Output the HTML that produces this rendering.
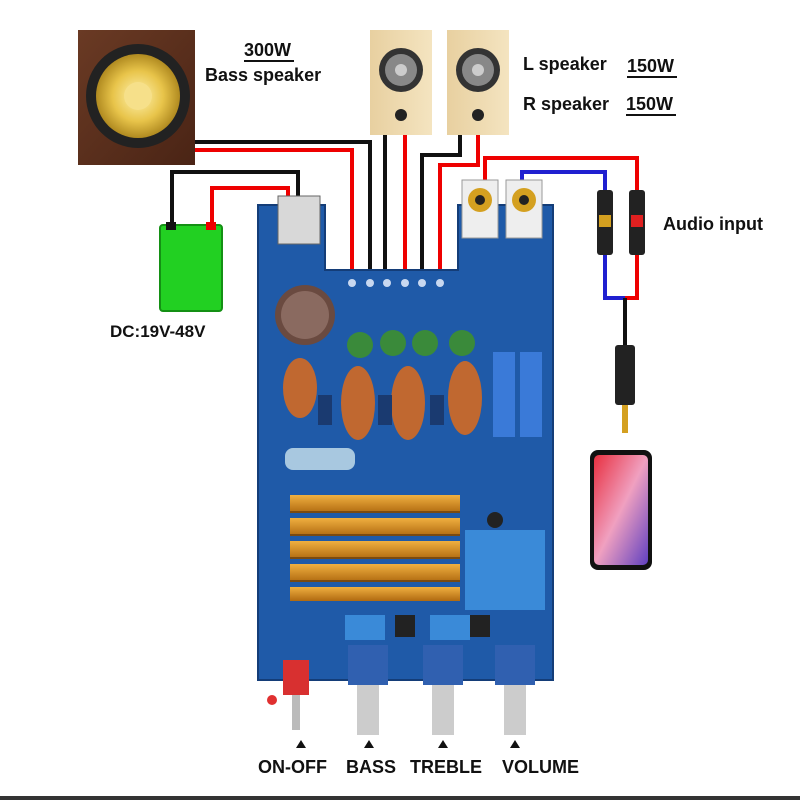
<!DOCTYPE html>
<html><head><meta charset="utf-8"><style>
html,body{margin:0;padding:0;background:#fff;width:800px;height:800px;overflow:hidden}
svg{display:block}
text{font-family:"Liberation Sans",sans-serif}
</style></head><body>
<svg width="800" height="800" viewBox="0 0 800 800" xmlns="http://www.w3.org/2000/svg">
<defs>
<linearGradient id="wood" x1="0" y1="0" x2="1" y2="1"><stop offset="0" stop-color="#6a3a24"/><stop offset="1" stop-color="#4a2415"/></linearGradient>
<radialGradient id="cone"><stop offset="0" stop-color="#fff3b0"/><stop offset="0.6" stop-color="#e8c44a"/><stop offset="1" stop-color="#b08a20"/></radialGradient>
<linearGradient id="gold" x1="0" y1="0" x2="0" y2="1"><stop offset="0" stop-color="#f0b040"/><stop offset="1" stop-color="#b06a10"/></linearGradient>
<linearGradient id="phone" x1="0" y1="0" x2="1" y2="1"><stop offset="0" stop-color="#e83040"/><stop offset="0.5" stop-color="#f0a0c0"/><stop offset="1" stop-color="#6040c0"/></linearGradient>
<linearGradient id="lw" x1="0" y1="0" x2="1" y2="0"><stop offset="0" stop-color="#e8d0a0"/><stop offset="1" stop-color="#f4e4c0"/></linearGradient>
</defs>
<rect width="800" height="800" fill="#fff"/>
<g fill="none" stroke-width="4">
<path d="M195 142 H370 V270" stroke="#111"/>
<path d="M195 150 H352 V270" stroke="#e00"/>
<path d="M385 135 V270" stroke="#111"/>
<path d="M405 135 V270" stroke="#e00"/>
<path d="M460 135 V155 H422 V270" stroke="#111"/>
<path d="M478 135 V165 H440 V270" stroke="#e00"/>
<path d="M172 225 V172 H298 V200" stroke="#111"/>
<path d="M212 225 V188 H288 V200" stroke="#e00"/>
<path d="M485 180 V158 H637 V190" stroke="#e00"/>
<path d="M522 180 V172 H605 V190" stroke="#2020d0"/>
<path d="M605 255 V298 H625" stroke="#2020d0"/>
<path d="M637 255 V298 H625" stroke="#e00"/>
<path d="M625 298 V345" stroke="#111"/>
</g>
<rect x="78" y="30" width="117" height="135" fill="url(#wood)"/>
<circle cx="138" cy="96" r="52" fill="#222"/>
<circle cx="138" cy="96" r="42" fill="url(#cone)"/>
<circle cx="138" cy="96" r="14" fill="#f6e08a"/>
<text x="244" y="56" font-size="18" font-weight="bold" fill="#111">300W</text>
<rect x="244" y="60" width="50" height="2" fill="#111"/>
<text x="205" y="81" font-size="18" font-weight="bold" fill="#111">Bass speaker</text>
<g>
<rect x="370" y="30" width="62" height="105" fill="url(#lw)"/>
<circle cx="401" cy="70" r="22" fill="#333"/><circle cx="401" cy="70" r="16" fill="#888"/><circle cx="401" cy="70" r="6" fill="#ccc"/>
<circle cx="401" cy="115" r="6" fill="#222"/>
<rect x="447" y="30" width="62" height="105" fill="url(#lw)"/>
<circle cx="478" cy="70" r="22" fill="#333"/><circle cx="478" cy="70" r="16" fill="#888"/><circle cx="478" cy="70" r="6" fill="#ccc"/>
<circle cx="478" cy="115" r="6" fill="#222"/>
</g>
<text x="523" y="70" font-size="18" font-weight="bold" fill="#111">L speaker</text>
<text x="627" y="72" font-size="18" font-weight="bold" fill="#111">150W</text>
<rect x="627" y="76" width="50" height="2" fill="#111"/>
<text x="523" y="110" font-size="18" font-weight="bold" fill="#111">R speaker</text>
<text x="626" y="110" font-size="18" font-weight="bold" fill="#111">150W</text>
<rect x="626" y="114" width="50" height="2" fill="#111"/>
<rect x="160" y="225" width="62" height="86" rx="3" fill="#22d022" stroke="#149014" stroke-width="2"/>
<rect x="166" y="222" width="10" height="8" fill="#111"/><rect x="206" y="222" width="10" height="8" fill="#e00"/>
<text x="110" y="337" font-size="17" font-weight="bold" fill="#111">DC:19V-48V</text>
<path d="M258 205 H325 V270 H458 V205 H553 V680 H258 Z" fill="#1f5aa8" stroke="#143d78" stroke-width="2"/>
<g fill="#c8d8f0"><circle cx="352" cy="283" r="4"/><circle cx="370" cy="283" r="4"/><circle cx="387" cy="283" r="4"/><circle cx="405" cy="283" r="4"/><circle cx="422" cy="283" r="4"/><circle cx="440" cy="283" r="4"/></g>
<rect x="278" y="196" width="42" height="48" fill="#d8d8d8" stroke="#666"/>
<rect x="462" y="180" width="36" height="58" fill="#eee" stroke="#999"/><circle cx="480" cy="200" r="12" fill="#d4a020"/><circle cx="480" cy="200" r="5" fill="#222"/>
<rect x="506" y="180" width="36" height="58" fill="#eee" stroke="#999"/><circle cx="524" cy="200" r="12" fill="#d4a020"/><circle cx="524" cy="200" r="5" fill="#222"/>
<circle cx="305" cy="315" r="30" fill="#6a4a40"/><circle cx="305" cy="315" r="24" fill="#8a6a60"/>
<g fill="#3a8a3a"><circle cx="360" cy="345" r="13"/><circle cx="393" cy="343" r="13"/><circle cx="425" cy="343" r="13"/><circle cx="462" cy="343" r="13"/></g>
<g fill="#c06830"><ellipse cx="300" cy="388" rx="17" ry="30"/><ellipse cx="358" cy="403" rx="17" ry="37"/><ellipse cx="408" cy="403" rx="17" ry="37"/><ellipse cx="465" cy="398" rx="17" ry="37"/></g>
<g fill="#1a3a70"><rect x="318" y="395" width="14" height="30"/><rect x="378" y="395" width="14" height="30"/><rect x="430" y="395" width="14" height="30"/></g>
<rect x="493" y="352" width="22" height="85" fill="#3a7ad8"/><rect x="520" y="352" width="22" height="85" fill="#3a7ad8"/>
<rect x="285" y="448" width="70" height="22" rx="8" fill="#a8c8e0"/>
<g fill="url(#gold)">
<rect x="290" y="495" width="170" height="18"/><rect x="290" y="518" width="170" height="18"/><rect x="290" y="541" width="170" height="18"/><rect x="290" y="564" width="170" height="18"/><rect x="290" y="587" width="170" height="14"/>
</g>
<g fill="#7a4a10"><rect x="290" y="511" width="170" height="2"/><rect x="290" y="534" width="170" height="2"/><rect x="290" y="557" width="170" height="2"/><rect x="290" y="580" width="170" height="2"/></g>
<g fill="#3a8ad8"><rect x="465" y="530" width="80" height="80"/><rect x="345" y="615" width="40" height="25"/><rect x="430" y="615" width="40" height="25"/></g>
<g fill="#222"><rect x="395" y="615" width="20" height="22"/><rect x="470" y="615" width="20" height="22"/><circle cx="495" cy="520" r="8"/></g>
<rect x="283" y="660" width="26" height="35" fill="#d83030"/><rect x="292" y="695" width="8" height="35" fill="#bbb"/>
<circle cx="272" cy="700" r="5" fill="#e03030"/>
<g>
<rect x="348" y="645" width="40" height="40" fill="#3060b0"/><rect x="357" y="685" width="22" height="50" fill="#ccc"/>
<rect x="423" y="645" width="40" height="40" fill="#3060b0"/><rect x="432" y="685" width="22" height="50" fill="#ccc"/>
<rect x="495" y="645" width="40" height="40" fill="#3060b0"/><rect x="504" y="685" width="22" height="50" fill="#ccc"/>
</g>
<g fill="#111"><path d="M296 748 l5 -8 l5 8z"/><path d="M364 748 l5 -8 l5 8z"/><path d="M438 748 l5 -8 l5 8z"/><path d="M510 748 l5 -8 l5 8z"/></g>
<g font-size="18" font-weight="bold" fill="#111">
<text x="258" y="773">ON-OFF</text><text x="346" y="773">BASS</text><text x="410" y="773">TREBLE</text><text x="502" y="773">VOLUME</text>
</g>
<rect x="597" y="190" width="16" height="65" rx="3" fill="#222"/><rect x="599" y="215" width="12" height="12" fill="#d4a020"/>
<rect x="629" y="190" width="16" height="65" rx="3" fill="#222"/><rect x="631" y="215" width="12" height="12" fill="#e02020"/>
<text x="663" y="230" font-size="18" font-weight="bold" fill="#111">Audio input</text>
<rect x="615" y="345" width="20" height="60" rx="3" fill="#222"/><rect x="622" y="405" width="6" height="28" fill="#d4a020"/>
<rect x="590" y="450" width="62" height="120" rx="8" fill="#111"/>
<rect x="594" y="455" width="54" height="110" rx="5" fill="url(#phone)"/>
<rect x="0" y="796" width="800" height="4" fill="#333"/>
</svg>
</body></html>
